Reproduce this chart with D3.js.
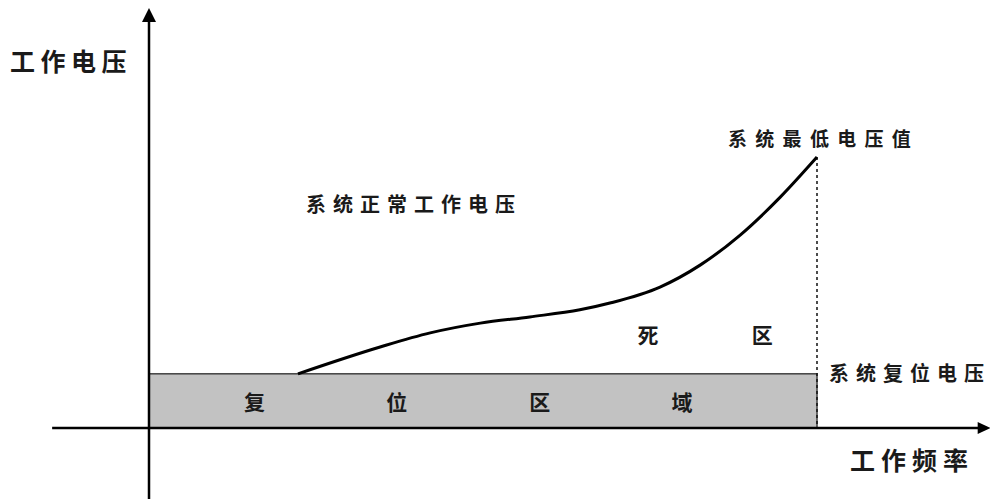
<!DOCTYPE html>
<html>
<head>
<meta charset="utf-8">
<script src="https://cdn.jsdelivr.net/npm/d3@7"></script>
<style>
  html, body { margin: 0; padding: 0; background: #fff; }
  text { font-family: "Noto Sans CJK SC", "Noto Sans", sans-serif; fill: #1a1a1a; }
</style>
</head>
<body>
<div id="chart"></div>
<script>
// frequency / voltage in relative units (0..100)
const freqMin = 0, freqMax = 100;        // end of the gray region / dead zone
const resetVoltage = 20;                 // 系统复位电压
const minVoltage = 100;                  // 系统最低电压值
const axisXExtent = [-14.5, 126];
const axisYExtent = [-27, 155];

// curve: minimum working voltage vs frequency
const curveFreq = [22.3, 34.6, 42.1, 49.6, 57.0, 64.5, 69.0, 76.5, 82.5, 88.5, 94.5, 100];
const curveVolt = [20, 29.9, 35.1, 38.7, 41.0, 43.6, 46.1, 52.0, 60.1, 71.2, 85.2, 100];

const zoneChars = ["复", "位", "区", "域"];
const zoneCharFreq = [15.8, 37.1, 58.5, 79.8];
const deadChars = ["死", "区"];
const deadCharFreq = [74.7, 91.8];

const width = 990, height = 499;

const svg = d3.select("#chart")
  .append("svg")
  .attr("width", width)
  .attr("height", height);

const x = d3.scaleLinear().domain([0, 100]).range([149, 817]);
const y = d3.scaleLinear().domain([0, 100]).range([428, 157]);

// reset region
svg.append("rect")
   .attr("x", x(freqMin))
   .attr("y", y(resetVoltage))
   .attr("width", x(freqMax) - x(freqMin))
   .attr("height", y(0) - y(resetVoltage))
   .attr("fill", "#c2c2c2")
   .attr("stroke", "#4a4a4a")
   .attr("stroke-width", 1.6);

// dashed boundary
svg.append("line")
   .attr("x1", x(freqMax)).attr("x2", x(freqMax))
   .attr("y1", y(minVoltage)).attr("y2", y(0))
   .attr("stroke", "#111")
   .attr("stroke-width", 1.5)
   .attr("stroke-dasharray", "3,3");

// axes
svg.append("line")
   .attr("x1", x(axisXExtent[0])).attr("x2", x(axisXExtent[1]) - 4)
   .attr("y1", y(0)).attr("y2", y(0))
   .attr("stroke", "#000").attr("stroke-width", 2.5);

svg.append("line")
   .attr("x1", x(0)).attr("x2", x(0))
   .attr("y1", y(axisYExtent[0])).attr("y2", y(axisYExtent[1]) + 4)
   .attr("stroke", "#000").attr("stroke-width", 2.5);

const xt = x(axisXExtent[1]), yt = y(axisYExtent[1]);
svg.append("path")
   .attr("d", `M${xt},${y(0)} L${xt - 13},${y(0) - 6} L${xt - 13},${y(0) + 6} Z`)
   .attr("fill", "#000");
svg.append("path")
   .attr("d", `M${x(0)},${yt} L${x(0) - 7},${yt + 14} L${x(0) + 7},${yt + 14} Z`)
   .attr("fill", "#000");

// curve
const curveData = curveFreq.map((f, i) => ({f: f, v: curveVolt[i]}));
const line = d3.line()
  .x(d => x(d.f))
  .y(d => y(d.v))
  .curve(d3.curveMonotoneX);

svg.append("path")
   .datum(curveData)
   .attr("d", line)
   .attr("fill", "none")
   .attr("stroke", "#000")
   .attr("stroke-width", 3);

// labels: per-character x positions so no trailing spacing spills over
function spaced(str, x0, pitch) {
  return Array.from(str).map((c, i) => x0 + i * pitch).join(" ");
}

function label(str, x0, y0, size, pitch) {
  svg.append("text")
     .attr("x", spaced(str, x0, pitch)).attr("y", y0)
     .attr("dominant-baseline", "central")
     .style("font-size", size + "px").style("font-weight", 700)
     .text(str);
}

label("工作电压", 10, 60, 25, 30.5);
label("工作频率", 850, 459, 25, 31);
label("系统最低电压值", 728, 137, 19, 27.3);
label("系统正常工作电压", 306, 203, 20, 27);
label("系统复位电压", 829, 372, 20, 27);

svg.selectAll(".zone")
   .data(zoneChars)
   .enter()
   .append("text")
   .attr("class", "zone")
   .attr("x", (d, i) => x(zoneCharFreq[i]))
   .attr("y", y(resetVoltage / 2))
   .attr("text-anchor", "middle")
   .attr("dominant-baseline", "central")
   .style("font-size", "21px").style("font-weight", 700)
   .text(d => d);

svg.selectAll(".dead")
   .data(deadChars)
   .enter()
   .append("text")
   .attr("class", "dead")
   .attr("x", (d, i) => x(deadCharFreq[i]))
   .attr("y", 334)
   .attr("text-anchor", "middle")
   .attr("dominant-baseline", "central")
   .style("font-size", "21px").style("font-weight", 700)
   .text(d => d);
</script>
</body>
</html>
